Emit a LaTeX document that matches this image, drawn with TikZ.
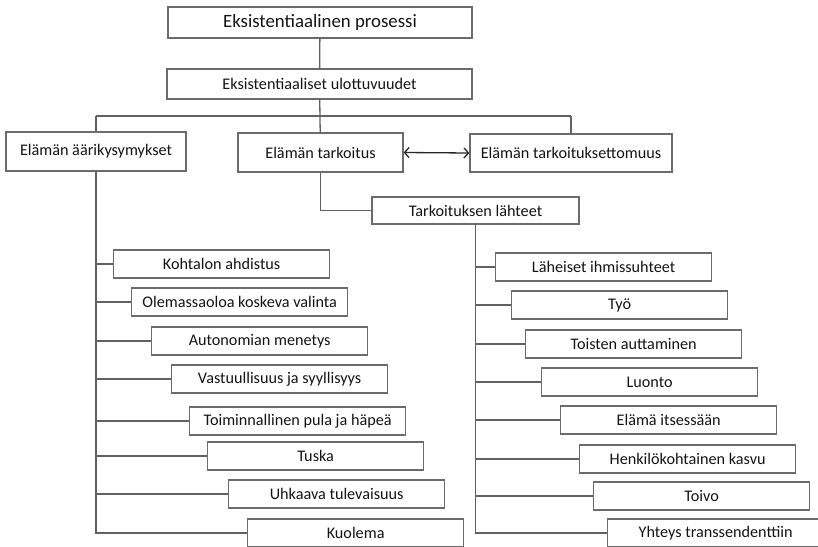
\documentclass[tikz,border=0pt]{standalone}
\usepackage{fontspec}
\setmainfont{Carlito}
\usetikzlibrary{arrows.meta}
\begin{document}
\begin{tikzpicture}[x=1pt,y=-1pt,
  box/.style={draw=black!58,line width=1.3pt,fill=white,inner sep=0pt,font=\fontsize{16.2}{18}\selectfont,text=black!92},
  kid/.style={box,minimum width=216pt,minimum height=28pt},
  link/.style={draw=black!62,line width=1.3pt}]
\useasboundingbox (0,0) rectangle (818,546);
\begin{scope}
\clip (0,0) rectangle (818,546);
\node[box,minimum width=304pt,minimum height=31pt,font=\fontsize{18.8}{21}\selectfont] (top) at (320,22.5) {Eksistentiaalinen prosessi};
\node[box,minimum width=305pt,minimum height=30pt] (uld) at (319.5,84) {Eksistentiaaliset ulottuvuudet};
\node[box,minimum width=180pt,minimum height=39pt] (aari) at (96,151.5) {Elämän äärikysymykset};
\node[box,minimum width=165pt,minimum height=39pt] (tark) at (320.5,152.5) {Elämän tarkoitus};
\node[box,minimum width=202pt,minimum height=38pt] (tton) at (571,153) {Elämän tarkoituksettomuus};
\node[box,minimum width=207pt,minimum height=27pt] (lah) at (475.5,210.5) {Tarkoituksen lähteet};
\coordinate (busL) at (96,116);
\coordinate (busR) at (571,116);
% left children
\node[kid,anchor=west] (k1) at (113,264) {Kohtalon ahdistus};
\node[kid,anchor=west] (k2) at (131,302) {Olemassaoloa koskeva valinta};
\node[kid,anchor=west] (k3) at (151,341) {Autonomian menetys};
\node[kid,anchor=west] (k4) at (171,379) {Vastuullisuus ja syyllisyys};
\node[kid,anchor=west] (k5) at (189,421) {Toiminnallinen pula ja häpeä};
\node[kid,anchor=west] (k6) at (207,456) {Tuska};
\node[kid,anchor=west] (k7) at (228,494) {Uhkaava tulevaisuus};
\node[kid,anchor=west] (k8) at (247,533) {Kuolema};
% right children
\node[kid,anchor=west] (l1) at (495,267) {Läheiset ihmissuhteet};
\node[kid,anchor=west] (l2) at (511,305) {Työ};
\node[kid,anchor=west] (l3) at (525,344) {Toisten auttaminen};
\node[kid,anchor=west] (l4) at (541,382) {Luonto};
\node[kid,anchor=west] (l5) at (560,420) {Elämä itsessään};
\node[kid,anchor=west] (l6) at (579,459) {Henkilökohtainen kasvu};
\node[kid,anchor=west] (l7) at (593,496) {Toivo};
\node[kid,anchor=west] (l8) at (607,533) {Yhteys transsendenttiin};
% connectors
\draw[link] (top) -- (uld);
\draw[link] (uld) -- (tark);
\draw[link] (busL) -- (busR);
\draw[link] (busL) -- (aari);
\draw[link] (busR) -- (tton);
\draw[link] (tark.south) |- (lah.west);
\foreach \i in {1,...,8}{
  \draw[link] (aari.south) |- (k\i.west);
  \draw[link] (lah.south) |- (l\i.west);
}
\draw[line width=1.3pt,black!85,{Straight Barb[length=4.5pt,width=10pt]}-{Straight Barb[length=4.5pt,width=10pt]}] (tark.east) -- (tton.west);
\end{scope}
\end{tikzpicture}
\end{document}
